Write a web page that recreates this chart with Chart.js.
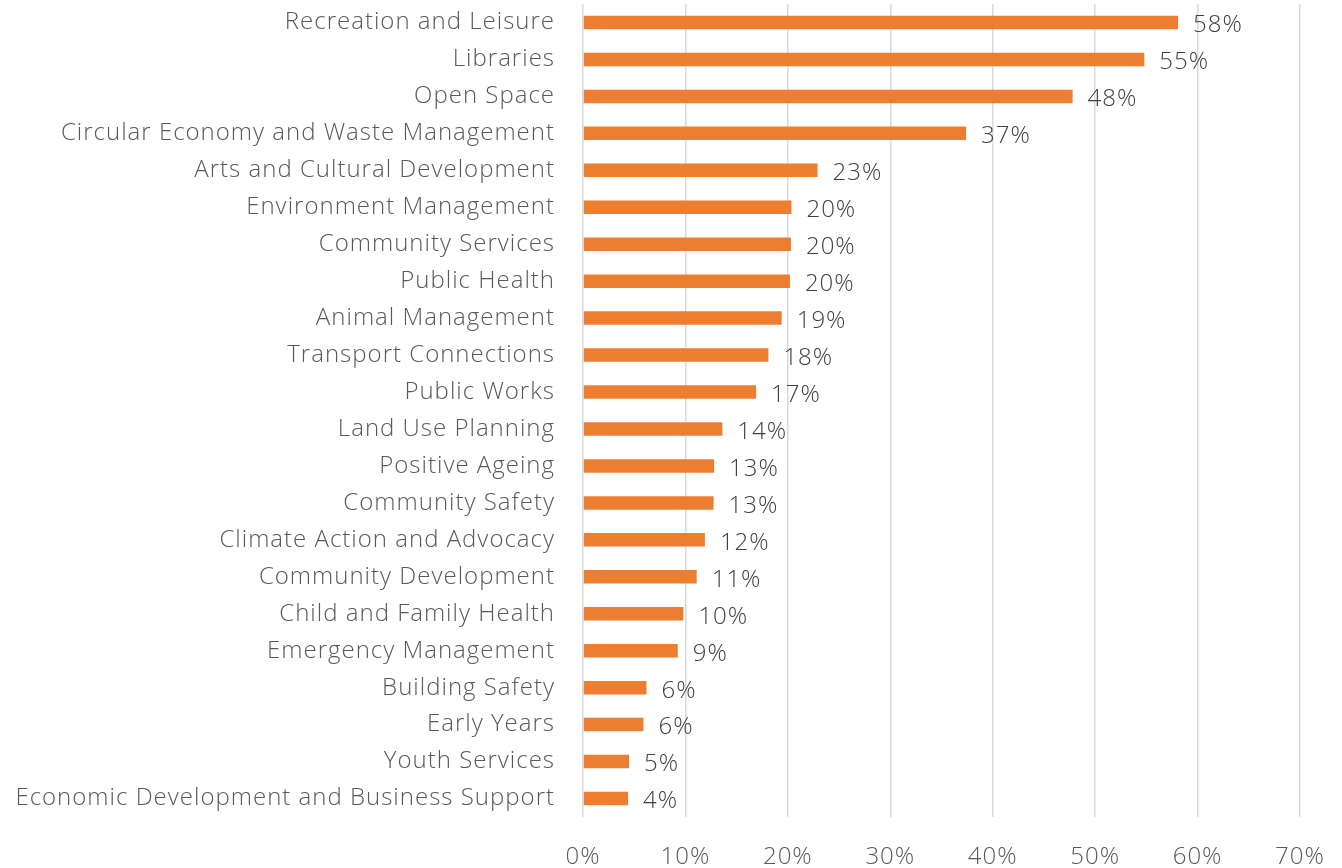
<!DOCTYPE html>
<html>
<head>
<meta charset="utf-8">
<script src="https://cdn.jsdelivr.net/npm/chart.js@4/dist/chart.umd.min.js"></script>
<style>
    html, body { margin: 0; padding: 0; background: #ffffff; }
    #wrap { width: 1342px; height: 868px; position: relative; }
</style>
</head>
<body>
<div id="wrap"><canvas id="myChart"></canvas></div>
<script>
// categorias y valores (%)
var categories = [
    "Recreation and Leisure",
    "Libraries",
    "Open Space",
    "Circular Economy and Waste Management",
    "Arts and Cultural Development",
    "Environment Management",
    "Community Services",
    "Public Health",
    "Animal Management",
    "Transport Connections",
    "Public Works",
    "Land Use Planning",
    "Positive Ageing",
    "Community Safety",
    "Climate Action and Advocacy",
    "Community Development",
    "Child and Family Health",
    "Emergency Management",
    "Building Safety",
    "Early Years",
    "Youth Services",
    "Economic Development and Business Support"
];

var percentValues = [58.1, 54.8, 47.8, 37.4, 22.9, 20.35, 20.3, 20.2, 19.4, 18.1, 16.9, 13.6, 12.8, 12.75, 11.9, 11.1, 9.8, 9.25, 6.2, 5.9, 4.5, 4.4];

var tickValues = [0, 10, 20, 30, 40, 50, 60, 70];

var fontFamily = "'Open Sans', sans-serif";

// un poco de espaciado entre letras para acercarse a la fuente original
var spacing = {
    id: "spacing",
    beforeDraw: function(chart) {
        chart.ctx.letterSpacing = "1px";
    }
};

// etiquetas de valor a la derecha de cada barra
var barLabels = {
    id: "barLabels",
    afterDatasetsDraw: function(chart) {
        var ctx = chart.ctx;
        var meta = chart.getDatasetMeta(0);
        ctx.save();
        ctx.font = "300 24px " + fontFamily;
        ctx.fillStyle = "#404040";
        ctx.textAlign = "left";
        ctx.textBaseline = "middle";
        meta.data.forEach(function(bar, i) {
            var v = chart.data.datasets[0].data[i];
            ctx.fillText(Math.round(v) + "%", bar.x + 15, bar.y + 3);
        });
        ctx.restore();
    }
};

const ctx = document.getElementById("myChart").getContext("2d");
const myChart = new Chart(ctx, {
    type: "bar",
    data: {
        labels: categories,
        datasets: [{
            data: percentValues,
            backgroundColor: "#ED7D31",
            borderWidth: 0,
            barPercentage: 0.73,
            categoryPercentage: 0.5
        }]
    },
    options: {
        indexAxis: "y",
        responsive: true,
        maintainAspectRatio: false,
        animation: false,
        layout: {
            padding: { top: 4, right: 42, bottom: 0, left: 0 }
        },
        plugins: {
            legend: { display: false },
            tooltip: { enabled: false }
        },
        scales: {
            x: {
                min: 0,
                max: 70,
                afterBuildTicks: function(scale) {
                    scale.ticks = tickValues.map(function(v) { return { value: v }; });
                },
                afterFit: function(scale) {
                    scale.height = 51;
                    scale.paddingLeft = 0;
                    scale.paddingRight = 0;
                },
                grid: {
                    color: "#d9d9d9",
                    lineWidth: 1.5,
                    drawTicks: false
                },
                border: { display: false },
                ticks: {
                    padding: 26,
                    color: "#595959",
                    font: { family: fontFamily, size: 24, weight: "300" },
                    callback: function(v) { return v + "%"; }
                }
            },
            y: {
                afterFit: function(scale) {
                    scale.width = 583;
                    scale.paddingTop = 0;
                    scale.paddingBottom = 0;
                },
                grid: { display: false, drawTicks: false },
                border: { display: false },
                ticks: {
                    padding: 28,
                    autoSkip: false,
                    color: "#595959",
                    font: { family: fontFamily, size: 24, weight: "300" }
                }
            }
        }
    },
    plugins: [spacing, barLabels]
});
</script>
</body>
</html>
